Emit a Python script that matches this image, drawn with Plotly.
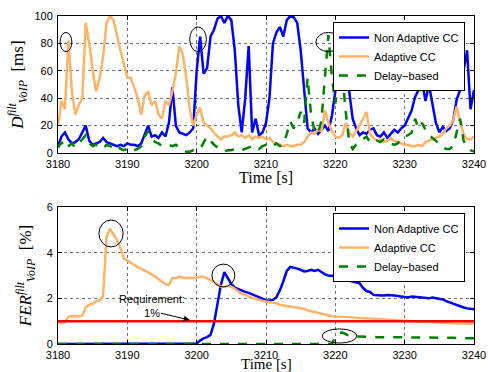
import numpy as np
import plotly.graph_objects as go

# ---------------- data ----------------
T_START, T_END, T_STEP = 3180, 3240, 0.5
time_s = np.arange(T_START, T_END + T_STEP / 2, T_STEP)  # 121 samples

series_names = ["Non Adaptive CC", "Adaptive CC", "Delay\u2212based"]

# Top panel: filtered VoIP delay [ms]
delay_nonadaptive = [
    5, 12, 15, 10, 7, 8, 10, 15, 20, 9,
    6, 7, 8, 11, 8, 7, 6, 5, 6, 5,
    7, 6, 6, 5, 7, 13, 20, 12, 13, 11,
    15, 12, 22, 48, 20, 15, 14, 13, 15, 18,
    60, 85, 58, 62, 85, 90, 98, 100, 95, 100,
    97, 75, 35, 15, 40, 78, 15, 25, 13, 15,
    22, 40, 80, 88, 92, 85, 97, 100, 99, 95,
    75, 45, 18, 15, 18, 14, 17, 20, 16, 27,
    45, 65, 82, 55, 45, 25, 18, 13, 15, 14,
    17, 18, 13, 12, 15, 11, 14, 17, 15, 18,
    20, 25, 31, 41, 46, 53, 38, 50, 36, 22,
    15, 19, 16, 18, 24, 39, 46, 62, 75, 32,
    46,
]
delay_adaptive = [
    20, 38, 32, 82, 45, 28, 35, 40, 95, 80,
    60, 45, 55, 70, 95, 100, 97, 85, 75, 65,
    55, 55, 48, 40, 28, 42, 45, 35, 38, 28,
    25, 38, 35, 45, 58, 78, 72, 55, 32, 20,
    28, 33, 22, 20, 18, 15, 12, 10, 12, 12,
    13, 15, 12, 13, 11, 13, 10, 12, 11, 12,
    10, 11, 8, 7, 6, 5, 6, 5, 5, 6,
    6, 8, 12, 15, 14, 17, 16, 31, 22, 16,
    12, 11, 13, 22, 15, 12, 16, 20, 25, 30,
    14, 11, 9, 10, 8, 9, 11, 9, 8, 7,
    6, 6, 5, 5, 6, 5, 8, 9, 10, 11,
    12, 14, 18, 20, 24, 34, 22, 14, 10, 10,
    12,
]
delay_delaybased = [
    4, 8, 3, 5, 7, 4, 7, 10, 13, 7,
    5, 6, 4, 3, 6, 5, 4, 6, 3, 2,
    3, 4, 2, 3, 5, 12, 16, 11, 8, 7,
    5, 6, 6, 5, 6, 4, 2, 1, 1, 2,
    2, 3, 7, 12, 9, 6, 4, 2, 1, 2,
    2, 3, 3, 2, 3, 4, 5, 5, 3, 5,
    6, 7, 5, 7, 5, 6, 14, 23, 18, 22,
    30, 22, 55, 28, 16, 14, 24, 56, 86, 56,
    36, 56, 58, 30, 8, 3, 6, 7, 10, 12,
    8, 7, 9, 8, 10, 8, 7, 6, 7, 11,
    12, 13, 15, 25, 18, 22, 17, 13, 11, 9,
    6, 4, 3, 3, 5, 14, 25, 9, 4, 2,
    1,
]

# Bottom panel: filtered VoIP frame error rate [%]
fer_nonadaptive = [0.0] * 40 + [
    0.02, 0.15, 0.25, 0.3, 0.4, 0.9, 1.75, 2.6, 3.15, 2.85,
    2.62, 2.47, 2.4, 2.35, 2.28, 2.24, 2.18, 2.1, 2.05, 2.0,
    1.92, 1.9, 1.93, 2.05, 2.35, 2.75, 3.2, 3.38, 3.35, 3.3,
    3.25, 3.18, 3.2, 3.25, 3.2, 3.25, 3.15, 3.05, 3.0, 2.98,
    3.02, 3.1, 2.88, 2.82, 2.78, 2.74, 2.7, 2.66, 2.45, 2.32,
    2.28, 2.15, 2.14, 2.12, 2.12, 2.15, 2.12, 2.12, 2.1, 2.07,
    2.05, 2.04, 2.08, 2.06, 2.04, 2.03, 2.02, 2.0, 2.04, 2.02,
    2.0, 1.95, 1.88, 1.82, 1.78, 1.72, 1.65, 1.6, 1.56, 1.53,
    1.52,
]
fer_adaptive = [
    0.95, 0.93, 0.95, 1.2, 1.23, 1.22, 1.2, 1.25, 1.6, 1.72,
    1.75, 1.88, 1.9, 2.1, 4.7, 5.05, 4.8, 4.55, 4.2, 3.75,
    3.65, 3.55, 3.45, 3.38, 3.28, 3.22, 3.15, 3.05, 2.95, 2.85,
    2.72, 2.62, 2.58, 2.9, 2.88, 2.95, 2.9, 2.88, 2.9, 2.88,
    2.9, 2.95, 2.95, 2.88, 2.8, 2.72, 2.6, 2.52, 2.5, 2.55,
    2.5, 2.42, 2.3, 2.2, 2.15, 2.08, 2.02, 1.98, 1.92, 1.88,
    1.86, 1.84, 1.82, 1.78, 1.72, 1.68, 1.66, 1.64, 1.62, 1.6,
    1.57, 1.54, 1.47, 1.42, 1.4, 1.37, 1.33, 1.27, 1.24, 1.22,
    1.21, 1.2, 1.19, 1.18, 1.17, 1.15, 1.13, 1.12, 1.11, 1.1,
    1.09, 1.08, 1.07, 1.06, 1.05, 1.05, 1.04, 1.03, 1.02, 1.02,
    1.01, 1.0, 0.98, 0.98, 0.97, 0.97, 0.96, 0.96, 0.95, 0.95,
    0.93, 0.93, 0.92, 0.91, 0.9, 0.9, 0.9, 0.9, 0.9, 0.9,
    0.9,
]
fer_delaybased = [0.0] * 80 + [
    0.3, 0.47, 0.5, 0.42, 0.36, 0.34, 0.33, 0.32, 0.31, 0.31,
    0.31, 0.3, 0.3, 0.3, 0.3, 0.3, 0.3, 0.3, 0.3, 0.3,
    0.3, 0.3, 0.3, 0.3, 0.29, 0.29, 0.29, 0.29, 0.28, 0.28,
    0.28, 0.28, 0.27, 0.27, 0.27, 0.26, 0.26, 0.26, 0.25, 0.25,
    0.25,
]

requirement_fer = 1.0  # [%]

x_ticks = [3180, 3190, 3200, 3210, 3220, 3230, 3240]
y_ticks_delay = [0, 20, 40, 60, 80, 100]
y_ticks_fer = [0, 2, 4, 6]

# highlighted regions (x0, x1, y0, y1)
circles_top = [(3180.3, 3182.0, 74, 88), (3199.0, 3201.4, 74, 92), (3217.2, 3220.8, 74, 88)]
circles_bottom = [(3185.9, 3189.4, 4.25, 5.43), (3202.2, 3205.5, 2.5, 3.5), (3218.1, 3223.1, 0.04, 0.66)]

# ---------------- styling ----------------
colors = ["#0000FF", "#FFB366", "#008000"]
dashes = ["solid", "solid", "dash"]
SANS = "Liberation Sans, Arial, sans-serif"
SERIF = "Liberation Serif, Times New Roman, serif"

fig = go.Figure()

top_series = [delay_nonadaptive, delay_adaptive, delay_delaybased]
bot_series = [fer_nonadaptive, fer_adaptive, fer_delaybased]

for name, ys, c, d in zip(series_names, top_series, colors, dashes):
    fig.add_trace(go.Scatter(x=time_s, y=ys, mode="lines", name=name,
                             line=dict(color=c, width=2.5, dash=d),
                             xaxis="x", yaxis="y", legend="legend"))

for name, ys, c, d in zip(series_names, bot_series, colors, dashes):
    fig.add_trace(go.Scatter(x=time_s, y=ys, mode="lines", name=name,
                             line=dict(color=c, width=2.5, dash=d),
                             xaxis="x2", yaxis="y2", legend="legend2"))

fig.add_trace(go.Scatter(x=[T_START, T_END], y=[requirement_fer, requirement_fer],
                         mode="lines", line=dict(color="#FF0000", width=2.5),
                         showlegend=False, xaxis="x2", yaxis="y2"))

axis_common = dict(
    showline=True, linecolor="black", linewidth=1, mirror="ticks",
    ticks="inside", ticklen=4, tickcolor="black", automargin=False,
    showgrid=True, gridcolor="rgba(0,0,0,0.55)", griddash="dot", gridwidth=1,
    zeroline=False, tickfont=dict(family=SANS, size=11, color="black"),
)

top_dom = [0.5823, 1.0]
bot_dom = [0.0, 0.4177]

fig.update_layout(
    width=488, height=372,
    margin=dict(l=58, r=14, t=16, b=28, autoexpand=False),
    paper_bgcolor="white", plot_bgcolor="white",
    xaxis=dict(domain=[0, 1], anchor="y", range=[T_START, T_END], tickvals=x_ticks,
               ticklabelstandoff=1, **axis_common),
    yaxis=dict(domain=top_dom, anchor="x", range=[0, 100], tickvals=y_ticks_delay,
               ticklabelstandoff=2,
               title=dict(text="<i>D</i><sup><i>filt</i></sup><sub><i>VoIP</i></sub>  [ms]",
                          font=dict(family=SERIF, size=17, color="black"), standoff=6),
               **axis_common),
    xaxis2=dict(domain=[0, 1], anchor="y2", range=[T_START, T_END], tickvals=x_ticks,
                ticklabelstandoff=1, **axis_common),
    yaxis2=dict(domain=bot_dom, anchor="x2", range=[0, 6], tickvals=y_ticks_fer,
                ticklabelstandoff=2,
                title=dict(text="<i>FER</i><sup><i>filt</i></sup><sub><i>VoIP</i></sub>  [%]",
                           font=dict(family=SERIF, size=17, color="black"), standoff=10),
                **axis_common),
    legend=dict(x=0.661, y=0.9817, xanchor="left", yanchor="top",
                bgcolor="white", bordercolor="black", borderwidth=1,
                font=dict(family=SANS, size=11, color="black"), tracegroupgap=0),
    legend2=dict(x=0.661, y=0.3994, xanchor="left", yanchor="top",
                 bgcolor="white", bordercolor="black", borderwidth=1,
                 font=dict(family=SANS, size=11, color="black"), tracegroupgap=0),
    showlegend=True,
)

# x-axis titles placed just under the tick labels
fig.add_annotation(text="Time [s]", xref="paper", yref="paper", x=0.5, y=top_dom[0],
                   yshift=-24, showarrow=False, yanchor="middle",
                   font=dict(family=SERIF, size=16, color="black"))
fig.add_annotation(text="Time [s]", xref="paper", yref="paper", x=0.5, y=bot_dom[0],
                   yshift=-20, showarrow=False, yanchor="middle",
                   font=dict(family=SERIF, size=15, color="black"))

for (x0, x1, y0, y1) in circles_top:
    fig.add_shape(type="circle", xref="x", yref="y", x0=x0, x1=x1, y0=y0, y1=y1,
                  line=dict(color="black", width=1))
for (x0, x1, y0, y1) in circles_bottom:
    fig.add_shape(type="circle", xref="x2", yref="y2", x0=x0, x1=x1, y0=y0, y1=y1,
                  line=dict(color="black", width=1))

# requirement annotation
fig.add_annotation(x=3193.5, y=1.65, xref="x2", yref="y2", text="Requirement:<br>1%",
                   showarrow=False, font=dict(family=SANS, size=11, color="black"))
fig.add_annotation(x=3199.0, y=1.05, xref="x2", yref="y2", ax=3194.4, ay=1.38,
                   axref="x2", ayref="y2", text=" ", showarrow=True,
                   arrowhead=2, arrowsize=1.2, arrowwidth=1, arrowcolor="black")

# remove the default page margin so the 488x372 figure fills the window exactly
fig.write_html("out.html", config={"displayModeBar": False},
               post_script="document.body.style.margin='0';document.body.style.overflow='hidden';")
